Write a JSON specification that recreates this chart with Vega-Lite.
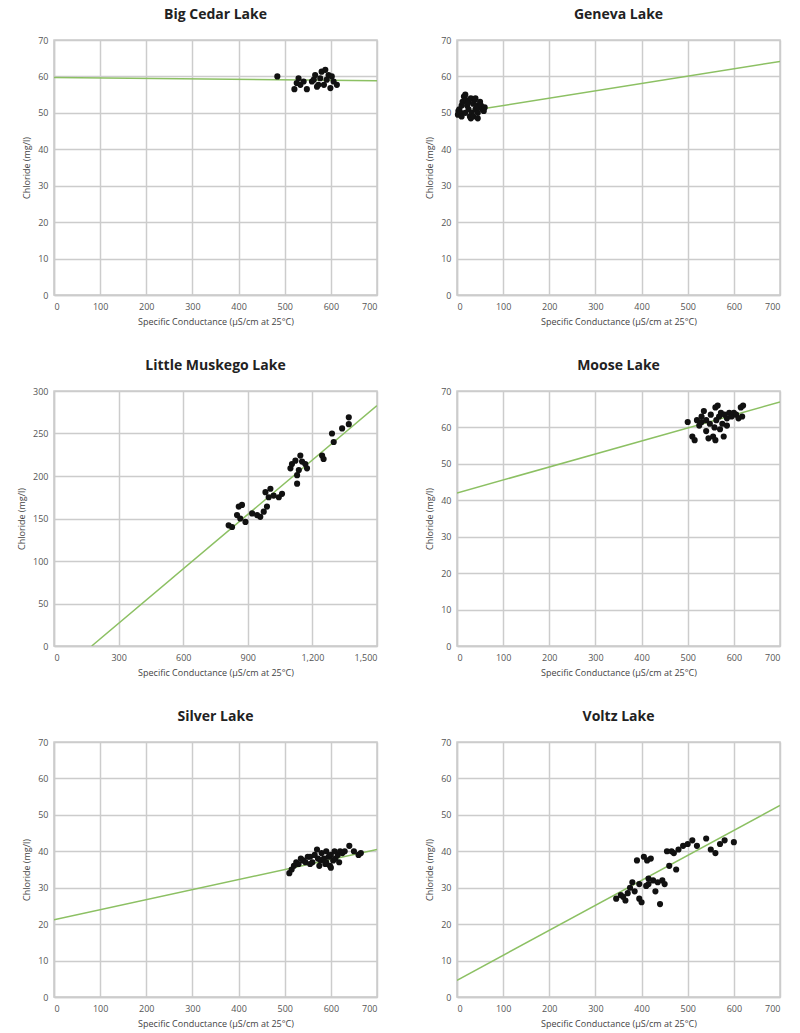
{
  "$schema": "https://vega.github.io/schema/vega-lite/v6.json",
  "background": "white",
  "padding": {"left": 16, "top": 7, "right": 5, "bottom": 5},
  "columns": 2,
  "spacing": {"row": 96, "column": 80},
  "bounds": "flush",
  "datasets": {
    "points": [
      {"lake": "Big Cedar Lake", "sc": 484, "cl": 60.0},
      {"lake": "Big Cedar Lake", "sc": 521, "cl": 56.5},
      {"lake": "Big Cedar Lake", "sc": 526, "cl": 58.2},
      {"lake": "Big Cedar Lake", "sc": 530, "cl": 59.5},
      {"lake": "Big Cedar Lake", "sc": 534, "cl": 57.7},
      {"lake": "Big Cedar Lake", "sc": 541, "cl": 58.6},
      {"lake": "Big Cedar Lake", "sc": 548, "cl": 56.5},
      {"lake": "Big Cedar Lake", "sc": 559, "cl": 58.6},
      {"lake": "Big Cedar Lake", "sc": 563, "cl": 59.1},
      {"lake": "Big Cedar Lake", "sc": 566, "cl": 60.4},
      {"lake": "Big Cedar Lake", "sc": 570, "cl": 57.2},
      {"lake": "Big Cedar Lake", "sc": 573, "cl": 57.7},
      {"lake": "Big Cedar Lake", "sc": 577, "cl": 59.5},
      {"lake": "Big Cedar Lake", "sc": 580, "cl": 61.3},
      {"lake": "Big Cedar Lake", "sc": 585, "cl": 57.7},
      {"lake": "Big Cedar Lake", "sc": 588, "cl": 61.8},
      {"lake": "Big Cedar Lake", "sc": 591, "cl": 59.1},
      {"lake": "Big Cedar Lake", "sc": 595, "cl": 60.4},
      {"lake": "Big Cedar Lake", "sc": 599, "cl": 56.8},
      {"lake": "Big Cedar Lake", "sc": 602, "cl": 60.0},
      {"lake": "Big Cedar Lake", "sc": 606, "cl": 58.6},
      {"lake": "Big Cedar Lake", "sc": 613, "cl": 57.7},
      {"lake": "Geneva Lake", "sc": 2, "cl": 49.5},
      {"lake": "Geneva Lake", "sc": 3, "cl": 50.5},
      {"lake": "Geneva Lake", "sc": 5, "cl": 51.0},
      {"lake": "Geneva Lake", "sc": 8, "cl": 50.0},
      {"lake": "Geneva Lake", "sc": 10, "cl": 52.0},
      {"lake": "Geneva Lake", "sc": 10, "cl": 49.0},
      {"lake": "Geneva Lake", "sc": 12, "cl": 53.0},
      {"lake": "Geneva Lake", "sc": 15, "cl": 54.5},
      {"lake": "Geneva Lake", "sc": 18, "cl": 55.0},
      {"lake": "Geneva Lake", "sc": 18, "cl": 50.0},
      {"lake": "Geneva Lake", "sc": 20, "cl": 53.5},
      {"lake": "Geneva Lake", "sc": 22, "cl": 52.0},
      {"lake": "Geneva Lake", "sc": 25, "cl": 51.0},
      {"lake": "Geneva Lake", "sc": 25, "cl": 53.0},
      {"lake": "Geneva Lake", "sc": 28, "cl": 49.0},
      {"lake": "Geneva Lake", "sc": 30, "cl": 48.5},
      {"lake": "Geneva Lake", "sc": 30, "cl": 54.0},
      {"lake": "Geneva Lake", "sc": 32, "cl": 50.0},
      {"lake": "Geneva Lake", "sc": 35, "cl": 52.5},
      {"lake": "Geneva Lake", "sc": 35, "cl": 49.0},
      {"lake": "Geneva Lake", "sc": 38, "cl": 53.5},
      {"lake": "Geneva Lake", "sc": 40, "cl": 54.0},
      {"lake": "Geneva Lake", "sc": 40, "cl": 51.0},
      {"lake": "Geneva Lake", "sc": 42, "cl": 52.0},
      {"lake": "Geneva Lake", "sc": 45, "cl": 50.0},
      {"lake": "Geneva Lake", "sc": 45, "cl": 48.5},
      {"lake": "Geneva Lake", "sc": 48, "cl": 51.5},
      {"lake": "Geneva Lake", "sc": 50, "cl": 53.0},
      {"lake": "Geneva Lake", "sc": 52, "cl": 52.0},
      {"lake": "Geneva Lake", "sc": 55, "cl": 51.0},
      {"lake": "Geneva Lake", "sc": 58, "cl": 50.5},
      {"lake": "Geneva Lake", "sc": 60, "cl": 51.5},
      {"lake": "Little Muskego Lake", "sc": 811, "cl": 142},
      {"lake": "Little Muskego Lake", "sc": 827, "cl": 140},
      {"lake": "Little Muskego Lake", "sc": 850, "cl": 154},
      {"lake": "Little Muskego Lake", "sc": 858, "cl": 164},
      {"lake": "Little Muskego Lake", "sc": 865, "cl": 150},
      {"lake": "Little Muskego Lake", "sc": 873, "cl": 166},
      {"lake": "Little Muskego Lake", "sc": 889, "cl": 146},
      {"lake": "Little Muskego Lake", "sc": 920, "cl": 156},
      {"lake": "Little Muskego Lake", "sc": 943, "cl": 154},
      {"lake": "Little Muskego Lake", "sc": 958, "cl": 152},
      {"lake": "Little Muskego Lake", "sc": 974, "cl": 158},
      {"lake": "Little Muskego Lake", "sc": 982, "cl": 181},
      {"lake": "Little Muskego Lake", "sc": 989, "cl": 164},
      {"lake": "Little Muskego Lake", "sc": 997, "cl": 175},
      {"lake": "Little Muskego Lake", "sc": 1005, "cl": 185},
      {"lake": "Little Muskego Lake", "sc": 1020, "cl": 177},
      {"lake": "Little Muskego Lake", "sc": 1044, "cl": 175},
      {"lake": "Little Muskego Lake", "sc": 1059, "cl": 179},
      {"lake": "Little Muskego Lake", "sc": 1098, "cl": 209},
      {"lake": "Little Muskego Lake", "sc": 1105, "cl": 214},
      {"lake": "Little Muskego Lake", "sc": 1121, "cl": 218},
      {"lake": "Little Muskego Lake", "sc": 1129, "cl": 201},
      {"lake": "Little Muskego Lake", "sc": 1129, "cl": 191},
      {"lake": "Little Muskego Lake", "sc": 1137, "cl": 207},
      {"lake": "Little Muskego Lake", "sc": 1144, "cl": 224},
      {"lake": "Little Muskego Lake", "sc": 1152, "cl": 217},
      {"lake": "Little Muskego Lake", "sc": 1167, "cl": 214},
      {"lake": "Little Muskego Lake", "sc": 1175, "cl": 209},
      {"lake": "Little Muskego Lake", "sc": 1245, "cl": 224},
      {"lake": "Little Muskego Lake", "sc": 1252, "cl": 220},
      {"lake": "Little Muskego Lake", "sc": 1291, "cl": 250},
      {"lake": "Little Muskego Lake", "sc": 1299, "cl": 240},
      {"lake": "Little Muskego Lake", "sc": 1338, "cl": 256},
      {"lake": "Little Muskego Lake", "sc": 1369, "cl": 269},
      {"lake": "Little Muskego Lake", "sc": 1369, "cl": 261},
      {"lake": "Moose Lake", "sc": 500, "cl": 61.5},
      {"lake": "Moose Lake", "sc": 510, "cl": 57.5},
      {"lake": "Moose Lake", "sc": 515, "cl": 56.5},
      {"lake": "Moose Lake", "sc": 520, "cl": 62.0},
      {"lake": "Moose Lake", "sc": 525, "cl": 60.5},
      {"lake": "Moose Lake", "sc": 530, "cl": 63.0},
      {"lake": "Moose Lake", "sc": 530, "cl": 61.5},
      {"lake": "Moose Lake", "sc": 535, "cl": 64.5},
      {"lake": "Moose Lake", "sc": 540, "cl": 62.0},
      {"lake": "Moose Lake", "sc": 540, "cl": 59.0},
      {"lake": "Moose Lake", "sc": 545, "cl": 57.0},
      {"lake": "Moose Lake", "sc": 548, "cl": 61.0},
      {"lake": "Moose Lake", "sc": 550, "cl": 63.5},
      {"lake": "Moose Lake", "sc": 555, "cl": 57.5},
      {"lake": "Moose Lake", "sc": 558, "cl": 60.0},
      {"lake": "Moose Lake", "sc": 560, "cl": 65.5},
      {"lake": "Moose Lake", "sc": 560, "cl": 56.5},
      {"lake": "Moose Lake", "sc": 562, "cl": 62.0},
      {"lake": "Moose Lake", "sc": 565, "cl": 66.0},
      {"lake": "Moose Lake", "sc": 568, "cl": 63.0},
      {"lake": "Moose Lake", "sc": 570, "cl": 59.5},
      {"lake": "Moose Lake", "sc": 572, "cl": 64.0},
      {"lake": "Moose Lake", "sc": 575, "cl": 61.0},
      {"lake": "Moose Lake", "sc": 578, "cl": 57.5},
      {"lake": "Moose Lake", "sc": 580, "cl": 63.5},
      {"lake": "Moose Lake", "sc": 585, "cl": 62.5},
      {"lake": "Moose Lake", "sc": 585, "cl": 60.5},
      {"lake": "Moose Lake", "sc": 590, "cl": 64.0},
      {"lake": "Moose Lake", "sc": 595, "cl": 63.0},
      {"lake": "Moose Lake", "sc": 600, "cl": 64.0},
      {"lake": "Moose Lake", "sc": 605, "cl": 63.5},
      {"lake": "Moose Lake", "sc": 610, "cl": 62.5},
      {"lake": "Moose Lake", "sc": 615, "cl": 65.5},
      {"lake": "Moose Lake", "sc": 618, "cl": 63.0},
      {"lake": "Moose Lake", "sc": 620, "cl": 66.0},
      {"lake": "Silver Lake", "sc": 510, "cl": 34.0},
      {"lake": "Silver Lake", "sc": 515, "cl": 35.0},
      {"lake": "Silver Lake", "sc": 520, "cl": 36.0},
      {"lake": "Silver Lake", "sc": 525, "cl": 37.0},
      {"lake": "Silver Lake", "sc": 530, "cl": 36.5},
      {"lake": "Silver Lake", "sc": 535, "cl": 38.0},
      {"lake": "Silver Lake", "sc": 540, "cl": 37.5},
      {"lake": "Silver Lake", "sc": 545, "cl": 37.0},
      {"lake": "Silver Lake", "sc": 550, "cl": 38.5},
      {"lake": "Silver Lake", "sc": 555, "cl": 36.5},
      {"lake": "Silver Lake", "sc": 555, "cl": 38.5},
      {"lake": "Silver Lake", "sc": 560, "cl": 37.0},
      {"lake": "Silver Lake", "sc": 565, "cl": 39.0},
      {"lake": "Silver Lake", "sc": 570, "cl": 40.5},
      {"lake": "Silver Lake", "sc": 572, "cl": 38.0},
      {"lake": "Silver Lake", "sc": 575, "cl": 36.0},
      {"lake": "Silver Lake", "sc": 578, "cl": 37.5},
      {"lake": "Silver Lake", "sc": 580, "cl": 39.5},
      {"lake": "Silver Lake", "sc": 585, "cl": 38.0},
      {"lake": "Silver Lake", "sc": 588, "cl": 36.5},
      {"lake": "Silver Lake", "sc": 590, "cl": 37.0},
      {"lake": "Silver Lake", "sc": 590, "cl": 40.0},
      {"lake": "Silver Lake", "sc": 595, "cl": 38.5},
      {"lake": "Silver Lake", "sc": 598, "cl": 36.0},
      {"lake": "Silver Lake", "sc": 600, "cl": 39.0},
      {"lake": "Silver Lake", "sc": 600, "cl": 35.5},
      {"lake": "Silver Lake", "sc": 605, "cl": 37.5},
      {"lake": "Silver Lake", "sc": 608, "cl": 40.0},
      {"lake": "Silver Lake", "sc": 610, "cl": 38.0},
      {"lake": "Silver Lake", "sc": 615, "cl": 39.0},
      {"lake": "Silver Lake", "sc": 618, "cl": 37.0},
      {"lake": "Silver Lake", "sc": 620, "cl": 40.0},
      {"lake": "Silver Lake", "sc": 625, "cl": 39.5},
      {"lake": "Silver Lake", "sc": 630, "cl": 40.0},
      {"lake": "Silver Lake", "sc": 640, "cl": 41.5},
      {"lake": "Silver Lake", "sc": 650, "cl": 40.0},
      {"lake": "Silver Lake", "sc": 660, "cl": 39.0},
      {"lake": "Silver Lake", "sc": 665, "cl": 39.5},
      {"lake": "Voltz Lake", "sc": 345, "cl": 27.0},
      {"lake": "Voltz Lake", "sc": 355, "cl": 28.0},
      {"lake": "Voltz Lake", "sc": 360, "cl": 27.5},
      {"lake": "Voltz Lake", "sc": 365, "cl": 26.5},
      {"lake": "Voltz Lake", "sc": 370, "cl": 28.5},
      {"lake": "Voltz Lake", "sc": 375, "cl": 30.0},
      {"lake": "Voltz Lake", "sc": 380, "cl": 31.5},
      {"lake": "Voltz Lake", "sc": 385, "cl": 29.0},
      {"lake": "Voltz Lake", "sc": 390, "cl": 37.5},
      {"lake": "Voltz Lake", "sc": 395, "cl": 27.0},
      {"lake": "Voltz Lake", "sc": 395, "cl": 31.0},
      {"lake": "Voltz Lake", "sc": 400, "cl": 26.0},
      {"lake": "Voltz Lake", "sc": 405, "cl": 38.5},
      {"lake": "Voltz Lake", "sc": 410, "cl": 30.5},
      {"lake": "Voltz Lake", "sc": 412, "cl": 37.5},
      {"lake": "Voltz Lake", "sc": 415, "cl": 31.0},
      {"lake": "Voltz Lake", "sc": 415, "cl": 32.5},
      {"lake": "Voltz Lake", "sc": 420, "cl": 38.0},
      {"lake": "Voltz Lake", "sc": 425, "cl": 32.0},
      {"lake": "Voltz Lake", "sc": 430, "cl": 29.0},
      {"lake": "Voltz Lake", "sc": 435, "cl": 31.5},
      {"lake": "Voltz Lake", "sc": 440, "cl": 25.5},
      {"lake": "Voltz Lake", "sc": 445, "cl": 32.0},
      {"lake": "Voltz Lake", "sc": 450, "cl": 31.0},
      {"lake": "Voltz Lake", "sc": 455, "cl": 40.0},
      {"lake": "Voltz Lake", "sc": 460, "cl": 36.0},
      {"lake": "Voltz Lake", "sc": 465, "cl": 40.0},
      {"lake": "Voltz Lake", "sc": 470, "cl": 39.5},
      {"lake": "Voltz Lake", "sc": 475, "cl": 35.0},
      {"lake": "Voltz Lake", "sc": 480, "cl": 40.5},
      {"lake": "Voltz Lake", "sc": 490, "cl": 41.5},
      {"lake": "Voltz Lake", "sc": 500, "cl": 42.0},
      {"lake": "Voltz Lake", "sc": 510, "cl": 43.0},
      {"lake": "Voltz Lake", "sc": 520, "cl": 41.5},
      {"lake": "Voltz Lake", "sc": 540, "cl": 43.5},
      {"lake": "Voltz Lake", "sc": 550, "cl": 40.5},
      {"lake": "Voltz Lake", "sc": 560, "cl": 39.5},
      {"lake": "Voltz Lake", "sc": 570, "cl": 42.0},
      {"lake": "Voltz Lake", "sc": 580, "cl": 43.0},
      {"lake": "Voltz Lake", "sc": 600, "cl": 42.5}
    ],
    "lines": [
      {"lake": "Big Cedar Lake", "sc": 0, "cl": 59.7},
      {"lake": "Big Cedar Lake", "sc": 700, "cl": 58.8},
      {"lake": "Geneva Lake", "sc": 0, "cl": 50.0},
      {"lake": "Geneva Lake", "sc": 700, "cl": 64.1},
      {"lake": "Little Muskego Lake", "sc": 175, "cl": 0},
      {"lake": "Little Muskego Lake", "sc": 1500, "cl": 283},
      {"lake": "Moose Lake", "sc": 0, "cl": 42.0},
      {"lake": "Moose Lake", "sc": 700, "cl": 67.0},
      {"lake": "Silver Lake", "sc": 0, "cl": 21.2},
      {"lake": "Silver Lake", "sc": 700, "cl": 40.5},
      {"lake": "Voltz Lake", "sc": 0, "cl": 4.6},
      {"lake": "Voltz Lake", "sc": 700, "cl": 52.6}
    ]
  },
  "concat": [
    {
      "title": "Big Cedar Lake",
      "width": 323, "height": 255,
      "encoding": {
        "x": {"field": "sc", "type": "quantitative", "scale": {"domain": [0, 700], "nice": false}, "axis": {"values": [0,100,200,300,400,500,600,700]}, "title": "Specific Conductance (µS/cm at 25°C)"},
        "y": {"field": "cl", "type": "quantitative", "scale": {"domain": [0, 70], "nice": false}, "axis": {"values": [0,10,20,30,40,50,60,70]}, "title": "Chloride (mg/l)"}
      },
      "layer": [
        {"data": {"name": "lines"}, "transform": [{"filter": "datum.lake === 'Big Cedar Lake'"}],
         "mark": {"type": "line", "color": "#8cc063", "strokeWidth": 1.5, "clip": true}},
        {"data": {"name": "points"}, "transform": [{"filter": "datum.lake === 'Big Cedar Lake'"}],
         "mark": {"type": "circle", "size": 38, "color": "#111111", "opacity": 1}}
      ]
    },
    {
      "title": "Geneva Lake",
      "width": 323, "height": 255,
      "encoding": {
        "x": {"field": "sc", "type": "quantitative", "scale": {"domain": [0, 700], "nice": false}, "axis": {"values": [0,100,200,300,400,500,600,700]}, "title": "Specific Conductance (µS/cm at 25°C)"},
        "y": {"field": "cl", "type": "quantitative", "scale": {"domain": [0, 70], "nice": false}, "axis": {"values": [0,10,20,30,40,50,60,70]}, "title": "Chloride (mg/l)"}
      },
      "layer": [
        {"data": {"name": "lines"}, "transform": [{"filter": "datum.lake === 'Geneva Lake'"}],
         "mark": {"type": "line", "color": "#8cc063", "strokeWidth": 1.5, "clip": true}},
        {"data": {"name": "points"}, "transform": [{"filter": "datum.lake === 'Geneva Lake'"}],
         "mark": {"type": "circle", "size": 38, "color": "#111111", "opacity": 1}}
      ]
    },
    {
      "title": "Little Muskego Lake",
      "width": 323, "height": 255,
      "encoding": {
        "x": {"field": "sc", "type": "quantitative", "scale": {"domain": [0, 1500], "nice": false}, "axis": {"values": [0,300,600,900,1200,1500], "format": ",.0f"}, "title": "Specific Conductance (µS/cm at 25°C)"},
        "y": {"field": "cl", "type": "quantitative", "scale": {"domain": [0, 300], "nice": false}, "axis": {"values": [0,50,100,150,200,250,300]}, "title": "Chloride (mg/l)"}
      },
      "layer": [
        {"data": {"name": "lines"}, "transform": [{"filter": "datum.lake === 'Little Muskego Lake'"}],
         "mark": {"type": "line", "color": "#8cc063", "strokeWidth": 1.5, "clip": true}},
        {"data": {"name": "points"}, "transform": [{"filter": "datum.lake === 'Little Muskego Lake'"}],
         "mark": {"type": "circle", "size": 38, "color": "#111111", "opacity": 1}}
      ]
    },
    {
      "title": "Moose Lake",
      "width": 323, "height": 255,
      "encoding": {
        "x": {"field": "sc", "type": "quantitative", "scale": {"domain": [0, 700], "nice": false}, "axis": {"values": [0,100,200,300,400,500,600,700]}, "title": "Specific Conductance (µS/cm at 25°C)"},
        "y": {"field": "cl", "type": "quantitative", "scale": {"domain": [0, 70], "nice": false}, "axis": {"values": [0,10,20,30,40,50,60,70]}, "title": "Chloride (mg/l)"}
      },
      "layer": [
        {"data": {"name": "lines"}, "transform": [{"filter": "datum.lake === 'Moose Lake'"}],
         "mark": {"type": "line", "color": "#8cc063", "strokeWidth": 1.5, "clip": true}},
        {"data": {"name": "points"}, "transform": [{"filter": "datum.lake === 'Moose Lake'"}],
         "mark": {"type": "circle", "size": 38, "color": "#111111", "opacity": 1}}
      ]
    },
    {
      "title": "Silver Lake",
      "width": 323, "height": 255,
      "encoding": {
        "x": {"field": "sc", "type": "quantitative", "scale": {"domain": [0, 700], "nice": false}, "axis": {"values": [0,100,200,300,400,500,600,700]}, "title": "Specific Conductance (µS/cm at 25°C)"},
        "y": {"field": "cl", "type": "quantitative", "scale": {"domain": [0, 70], "nice": false}, "axis": {"values": [0,10,20,30,40,50,60,70]}, "title": "Chloride (mg/l)"}
      },
      "layer": [
        {"data": {"name": "lines"}, "transform": [{"filter": "datum.lake === 'Silver Lake'"}],
         "mark": {"type": "line", "color": "#8cc063", "strokeWidth": 1.5, "clip": true}},
        {"data": {"name": "points"}, "transform": [{"filter": "datum.lake === 'Silver Lake'"}],
         "mark": {"type": "circle", "size": 38, "color": "#111111", "opacity": 1}}
      ]
    },
    {
      "title": "Voltz Lake",
      "width": 323, "height": 255,
      "encoding": {
        "x": {"field": "sc", "type": "quantitative", "scale": {"domain": [0, 700], "nice": false}, "axis": {"values": [0,100,200,300,400,500,600,700]}, "title": "Specific Conductance (µS/cm at 25°C)"},
        "y": {"field": "cl", "type": "quantitative", "scale": {"domain": [0, 70], "nice": false}, "axis": {"values": [0,10,20,30,40,50,60,70]}, "title": "Chloride (mg/l)"}
      },
      "layer": [
        {"data": {"name": "lines"}, "transform": [{"filter": "datum.lake === 'Voltz Lake'"}],
         "mark": {"type": "line", "color": "#8cc063", "strokeWidth": 1.5, "clip": true}},
        {"data": {"name": "points"}, "transform": [{"filter": "datum.lake === 'Voltz Lake'"}],
         "mark": {"type": "circle", "size": 38, "color": "#111111", "opacity": 1}}
      ]
    }
  ],
  "config": {
    "view": {"stroke": "#cccccc", "strokeWidth": 1.5},
    "axis": {
      "grid": true, "gridColor": "#cccccc", "gridWidth": 1.5,
      "domainColor": "#cccccc", "domainWidth": 1.5,
      "ticks": false, "labelPadding": 6, "labelOverlap": false,
      "labelFont": "Open Sans", "labelFontSize": 9, "labelColor": "#555555",
      "titleFont": "Open Sans", "titleFontSize": 9, "titleFontWeight": "normal", "titleColor": "#444444",
      "titlePadding": 6
    },
    "axisX": {"labelPadding": 7, "titlePadding": 6},
    "title": {"font": "Open Sans", "fontSize": 14, "fontWeight": "bold", "color": "#222222", "anchor": "middle", "offset": 14}
  }
}
